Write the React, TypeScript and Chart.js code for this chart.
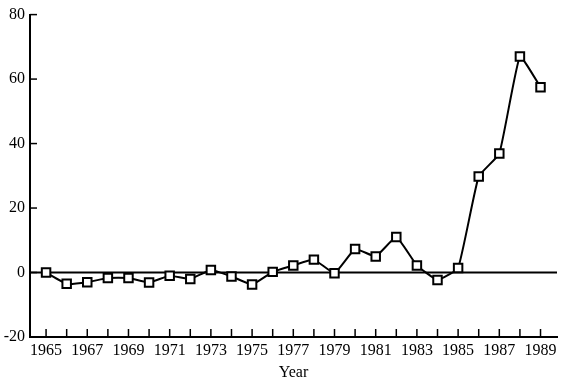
import React, { useEffect, useRef } from "react";
import { Chart, registerables } from "chart.js";

Chart.register(...registerables);

const years = [1965,1966,1967,1968,1969,1970,1971,1972,1973,1974,1975,1976,1977,1978,1979,1980,1981,1982,1983,1984,1985,1986,1987,1988,1989];
const values = [0,-3.5,-3,-1.7,-1.7,-3.1,-1,-2,0.8,-1.2,-3.7,0.2,2.2,4,-0.2,7.3,5,11,2.2,-2.3,1.4,29.8,36.9,67,57.5];
const yTicks = [-20, 0, 20, 40, 60, 80];
const xTitle = "Year";

const FONT = "'Liberation Serif', 'DejaVu Serif', serif";

const innerTicks = {
  id: "innerTicks",
  afterDraw(chart: any) {
    const { ctx, chartArea, scales } = chart;
    const x = scales.x;
    const y = scales.y;
    ctx.save();
    ctx.strokeStyle = "#000";
    ctx.lineWidth = 1.5;
    years.forEach((yr) => {
      const px = x.getPixelForValue(yr);
      ctx.beginPath();
      ctx.moveTo(px, chartArea.bottom);
      ctx.lineTo(px, chartArea.bottom - 8);
      ctx.stroke();
    });
    yTicks.forEach((v) => {
      const py = y.getPixelForValue(v);
      ctx.beginPath();
      ctx.moveTo(chartArea.left, py);
      ctx.lineTo(chartArea.left + 7, py);
      ctx.stroke();
    });
    ctx.restore();
  },
};

const zeroLine = {
  id: "zeroLine",
  beforeDatasetsDraw(chart: any) {
    const { ctx, chartArea, scales } = chart;
    const zy = scales.y.getPixelForValue(0);
    ctx.save();
    ctx.strokeStyle = "#000";
    ctx.lineWidth = 1.8;
    ctx.beginPath();
    ctx.moveTo(chartArea.left, zy);
    ctx.lineTo(chartArea.right, zy);
    ctx.stroke();
    ctx.restore();
  },
};

export default function App() {
  const ref = useRef<HTMLCanvasElement>(null);
  useEffect(() => {
    if (!ref.current) return;
    const chart = new Chart(ref.current, {
      type: "line",
      data: {
        datasets: [
          {
            data: years.map((yr, i) => ({ x: yr, y: values[i] })),
            borderColor: "#000",
            borderWidth: 2,
            tension: 0.12,
            pointStyle: "rect",
            pointRadius: 6,
            pointBorderWidth: 2,
            pointBorderColor: "#000",
            pointBackgroundColor: "#fff",
          },
        ],
      },
      plugins: [zeroLine, innerTicks],
      options: {
        animation: false,
        responsive: false,
        layout: { padding: { left: 2, right: 28, top: 12, bottom: 0 } },
        plugins: { legend: { display: false }, tooltip: { enabled: false } },
        scales: {
          x: {
            type: "linear",
            min: 1964.22,
            max: 1989.8,
            afterBuildTicks: (s: any) => {
              s.ticks = years.map((v) => ({ value: v }));
            },
            afterFit: (s: any) => {
              s.height = 53;
            },
            grid: { display: false, drawTicks: false },
            border: { display: true, color: "#000", width: 2 },
            ticks: {
              autoSkip: false,
              maxRotation: 0,
              padding: 4,
              color: "#000",
              font: { family: FONT, size: 16 },
              callback: (v: any) => (Number(v) % 2 === 1 ? String(v) : ""),
            },
            title: {
              display: true,
              text: xTitle,
              color: "#000",
              font: { family: FONT, size: 16 },
              padding: { top: 4, bottom: 8 },
            },
          },
          y: {
            min: -20,
            max: 80,
            afterBuildTicks: (s: any) => {
              s.ticks = yTicks.map((v) => ({ value: v }));
            },
            afterFit: (s: any) => {
              s.width = 28;
            },
            grid: { display: false, drawTicks: false },
            border: { display: true, color: "#000", width: 2 },
            ticks: {
              padding: 5,
              color: "#000",
              font: { family: FONT, size: 16 },
            },
          },
        },
      },
    });
    return () => chart.destroy();
  }, []);
  return (
    <div style={{ position: "absolute", left: 0, top: 0, width: 585, height: 390, background: "#fff" }}>
      <canvas ref={ref} width={585} height={390} />
    </div>
  );
}
